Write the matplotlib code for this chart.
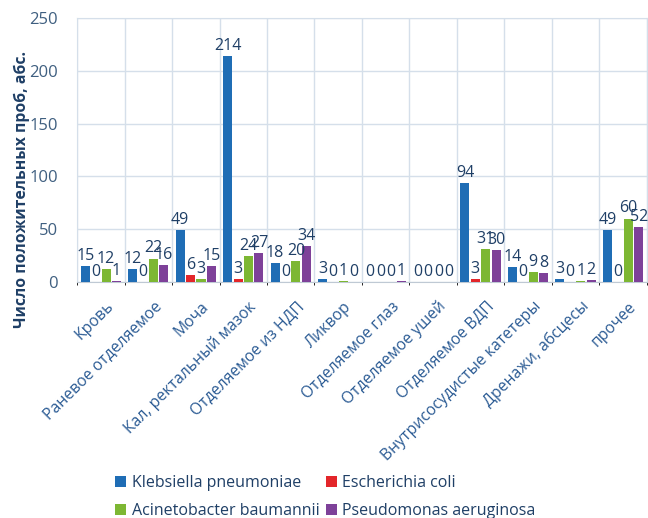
import matplotlib
matplotlib.use("Agg")
import matplotlib.pyplot as plt
import matplotlib.transforms as mtransforms
import numpy as np

categories = ["Кровь", "Раневое отделяемое", "Моча", "Кал, ректальный мазок",
              "Отделяемое из НДП", "Ликвор", "Отделяемое глаз", "Отделяемое ушей",
              "Отделяемое ВДП", "Внутрисосудистые катетеры", "Дренажи, абсцесы", "прочее"]
klebsiella = [15, 12, 49, 214, 18, 3, 0, 0, 94, 14, 3, 49]
ecoli = [0, 0, 6, 3, 0, 0, 0, 0, 3, 0, 0, 0]
acinetobacter = [12, 22, 3, 24, 20, 1, 0, 0, 31, 9, 1, 60]
pseudomonas = [1, 16, 15, 27, 34, 0, 1, 0, 30, 8, 2, 52]
series_names = ["Klebsiella pneumoniae", "Escherichia coli",
                "Acinetobacter baumannii", "Pseudomonas aeruginosa"]
yticks = [0, 50, 100, 150, 200, 250]

colors = ["#1F6DB5", "#E3262A", "#7DB733", "#7E4199"]
text_color = "#1F3F66"
tick_color = "#2B5B94"

plt.rcParams['font.family'] = ['Open Sans', 'DejaVu Sans']

fig = plt.figure(figsize=(6.48, 5.18), dpi=100)
ax = fig.add_axes([0.119, 0.456, 0.879, 0.509])

x = np.arange(len(categories))
stride = 0.22
width = 0.19
series = [klebsiella, ecoli, acinetobacter, pseudomonas]
bars = []
for i, (vals, c, name) in enumerate(zip(series, colors, series_names)):
    pos = x + (i - 1.5) * stride
    bars.append(ax.bar(pos, vals, width=width, color=c, label=name, zorder=3))
    for p, v in zip(pos, vals):
        ax.text(p, v + 2, str(v), ha="center", va="bottom",
                fontsize=11.5, color=text_color, zorder=4)

ax.set_xlim(-0.5, len(categories) - 0.5)
ax.set_ylim(0, 250)
ax.set_yticks(yticks)
ax.set_xticks(x)
ax.set_xticklabels(categories, rotation=45, ha="right", rotation_mode="anchor",
                   fontsize=11.3, color=tick_color)
ax.tick_params(axis="x", length=0, pad=12)
ax.tick_params(axis="y", length=0, labelsize=12, labelcolor="#3F5F80", pad=14)

# nudge the slanted category labels slightly to the right
shift = mtransforms.ScaledTranslation(0.05, 0, fig.dpi_scale_trans)
for lbl in ax.get_xticklabels():
    lbl.set_transform(lbl.get_transform() + shift)

ax.set_xticks(np.arange(len(categories) + 1) - 0.5, minor=True)
ax.grid(True, which="minor", axis="x", color="#D5DFEA", linewidth=1, zorder=0)
ax.grid(True, which="major", axis="y", color="#D5DFEA", linewidth=1, zorder=0)
for s in ["top", "right", "left"]:
    ax.spines[s].set_color("#D5DFEA")
ax.spines["bottom"].set_color("#BFC9D4")

ax.set_ylabel("Число положительных проб, абс.", fontsize=11.3, fontweight="bold",
              color=text_color)
ax.yaxis.set_label_coords(-0.083, 0.35)

# column-major fill: first row holds Klebsiella and E. coli
order = [0, 2, 1, 3]
handles = [bars[i] for i in order]
labels = [series_names[i] for i in order]
leg = fig.legend(handles, labels, loc="lower left", bbox_to_anchor=(0.155, -0.03),
                 ncol=2, frameon=False, fontsize=11.5, handlelength=0.7,
                 handleheight=0.7, handletextpad=0.35, columnspacing=0.4,
                 labelspacing=0.75)
for t in leg.get_texts():
    t.set_color(text_color)

fig.savefig("out.png", dpi=100)
